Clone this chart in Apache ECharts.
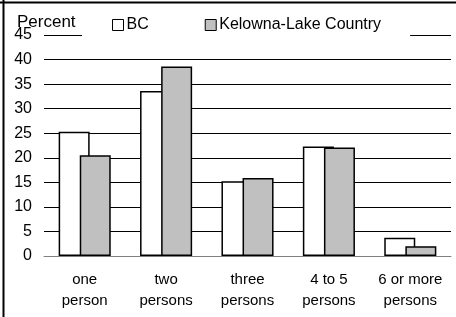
<!DOCTYPE html>
<html>
<head>
<meta charset="utf-8">
<script src="https://cdn.jsdelivr.net/npm/echarts@6/dist/echarts.min.js"></script>
<style>
  html, body { margin: 0; padding: 0; background: #fff; }
  #main { width: 456px; height: 317px; }
</style>
</head>
<body>
<div id="main"></div>
<script>
var categories = ['one\nperson', 'two\npersons', 'three\npersons', '4 to 5\npersons', '6 or more\npersons'];
var bcValues = [25.3, 33.6, 15.2, 22.3, 3.7];
var kelownaValues = [20.5, 38.6, 15.9, 22.1, 2.0];
var yTicks = { min: 0, max: 45, interval: 5 };

var myChart = echarts.init(document.getElementById('main'));

var font = 'Arial, "Liberation Sans", sans-serif';

var option = {
    backgroundColor: '#fff',
    animation: false,
    title: {
        text: 'Percent',
        left: 17,
        top: 14,
        padding: 0,
        textStyle: {
            color: '#000',
            fontFamily: font,
            fontWeight: 'normal',
            fontSize: 17
        }
    },
    legend: {
        data: ['BC', 'Kelowna-Lake Country'],
        left: 82,
        top: 10,
        padding: [7, 29, 6, 30],
        backgroundColor: '#fff',
        icon: 'rect',
        itemWidth: 11,
        itemHeight: 11,
        itemGap: 56,
        itemStyle: { borderColor: '#000', borderWidth: 1 },
        textStyle: { color: '#000', fontFamily: font, fontSize: 16, padding: [0, 0, 0, -2] }
    },
    grid: {
        left: 44,
        right: 5,
        top: 35,
        bottom: 61
    },
    xAxis: {
        type: 'category',
        data: categories,
        axisTick: { show: false },
        axisLine: { lineStyle: { color: '#808080', width: 1 } },
        axisLabel: {
            color: '#000',
            fontFamily: font,
            fontSize: 15,
            lineHeight: 21,
            margin: 13,
            interval: 0
        }
    },
    yAxis: {
        type: 'value',
        min: yTicks.min,
        max: yTicks.max,
        interval: yTicks.interval,
        axisLine: { show: false },
        axisTick: { show: false },
        splitLine: { lineStyle: { color: '#000', width: 1 } },
        axisLabel: {
            color: '#000',
            fontFamily: font,
            fontSize: 16,
            margin: 12
        }
    },
    series: [{
        name: 'BC',
        type: 'bar',
        data: bcValues,
        barWidth: 31,
        barGap: '-32%',
        itemStyle: { color: '#fff', borderColor: '#000', borderWidth: 1.5 }
    }, {
        name: 'Kelowna-Lake Country',
        type: 'bar',
        data: kelownaValues,
        barWidth: 31,
        barGap: '-32%',
        itemStyle: { color: '#c0c0c0', borderColor: '#000', borderWidth: 1.5 }
    }],
    graphic: [{
        type: 'line',
        shape: { x1: 0, y1: 2.5, x2: 456, y2: 2.5 },
        style: { stroke: '#000', lineWidth: 2 }
    }, {
        type: 'line',
        shape: { x1: 3.5, y1: 0, x2: 3.5, y2: 317 },
        style: { stroke: '#000', lineWidth: 2 }
    }]
};

myChart.setOption(option);
</script>
</body>
</html>
